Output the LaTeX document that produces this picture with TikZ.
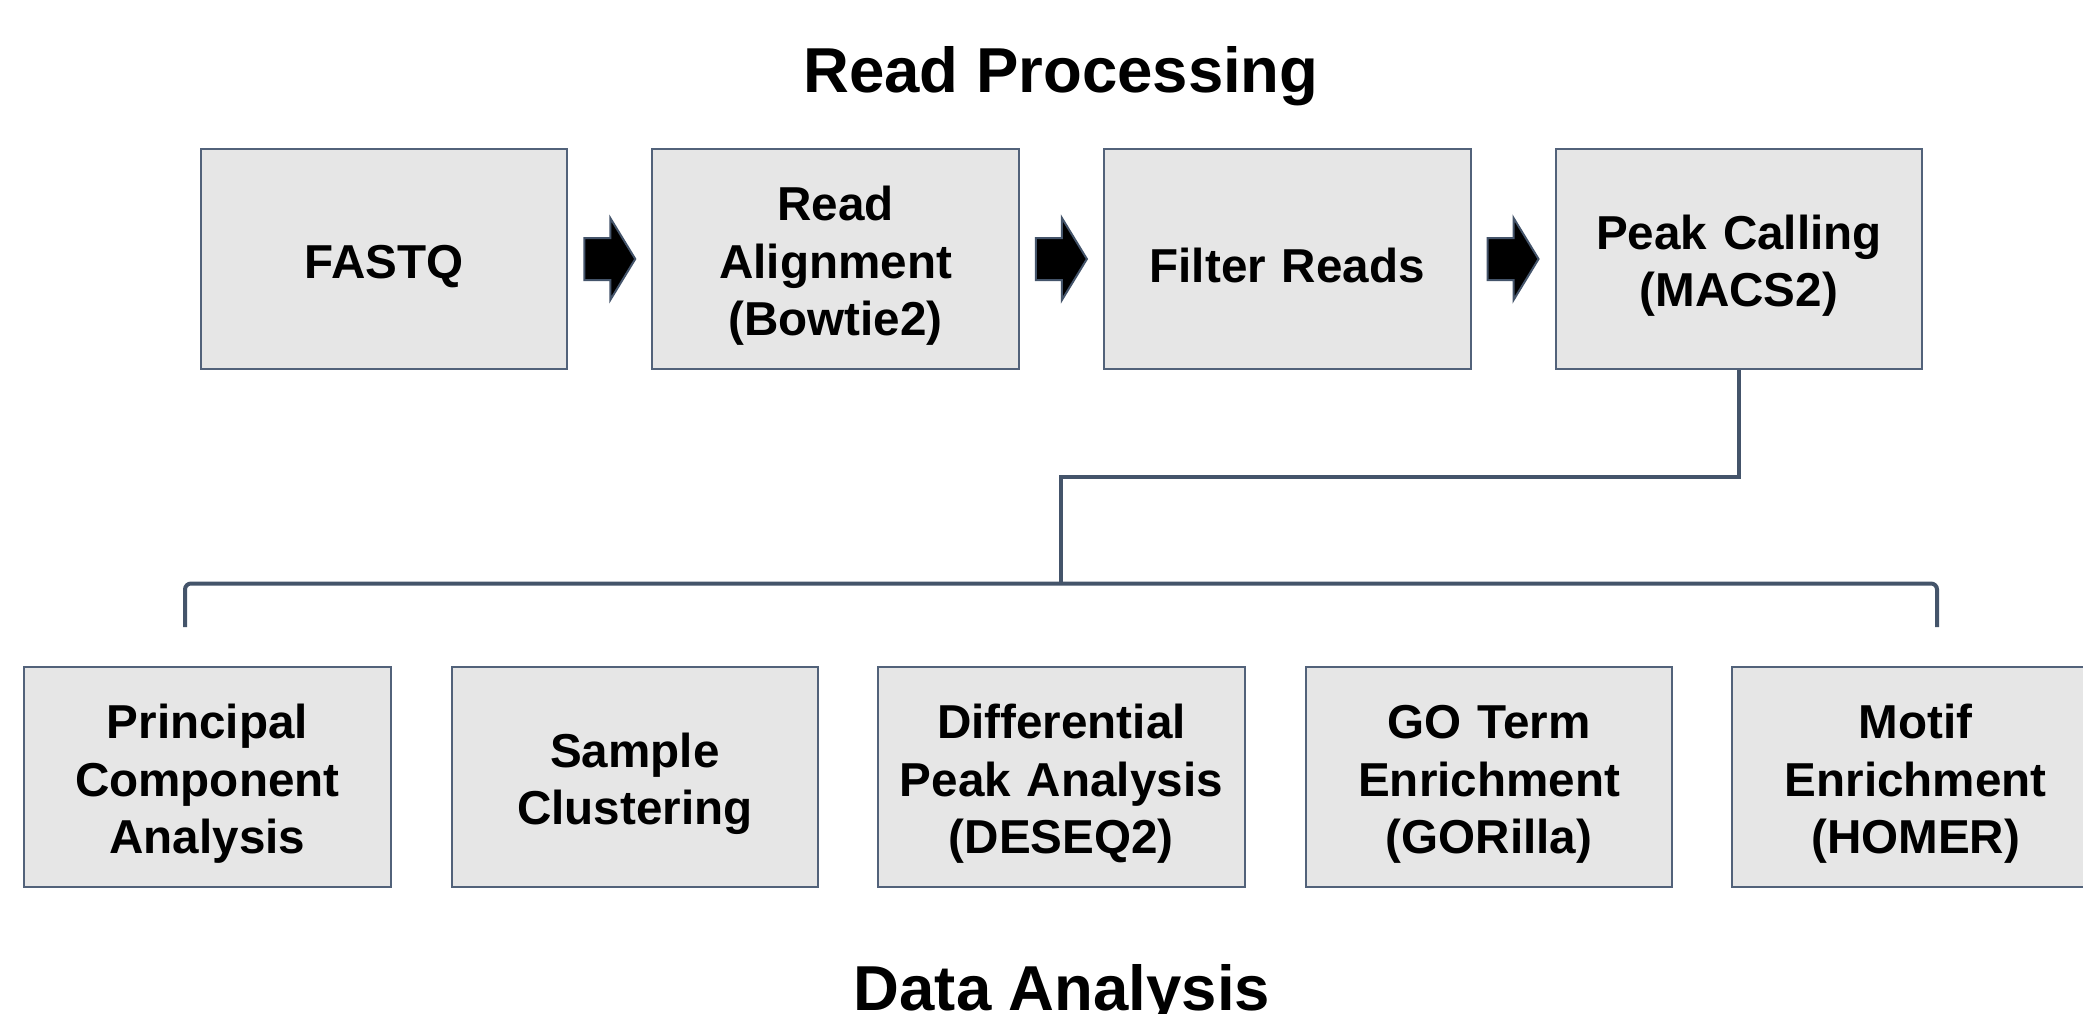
\documentclass[tikz,border=0pt]{standalone}
\usepackage{fontspec}
\setmainfont{Liberation Sans}
\usetikzlibrary{calc}
\definecolor{boxfill}{HTML}{E6E6E6}
\definecolor{slate}{HTML}{44546A}
\definecolor{boxedge}{HTML}{52627A}
\tikzset{
  stepbox/.style={draw=boxedge, line width=2pt, fill=boxfill, minimum width=366.6pt,
    minimum height=220.5pt, inner sep=0pt, align=center, text width=350pt,
    font=\bfseries\fontsize{47.6}{57.8}\selectfont,
    execute at begin node={\rule{0pt}{48pt}}},
  heading/.style={anchor=base, inner sep=0pt, font=\bfseries\fontsize{63.5}{70}\selectfont},
  conn/.style={draw=slate, line width=4pt},
  blockarr/.style={draw=slate, line width=2pt, fill=black, line join=miter},
}
% block arrow centred between two nodes
\newcommand\blockarrow[2]{%
  \draw[blockarr] ($(#1.east)!0.5!(#2.west)$) ++(-25.5,-21) -- ++(26,0) -- ++(0,-20)
    -- ++(25,41) -- ++(-25,41) -- ++(0,-20) -- ++(-26,0) -- cycle;}
\begin{document}
\begin{tikzpicture}[x=1pt, y=-1pt]
  \clip (0,0) rectangle (2083,1014);
  \fill[white] (0,0) rectangle (2083,1014);

  \node[heading] (title1) at (1061,93) {Read Processing};
  \node[heading] (title2) at (1062,1010) {Data Analysis};

  % read processing chain
  \node[stepbox] (fastq)  at (383.9,259) {FASTQ};
  \node[stepbox] (align)  at (835.6,259) {Read\\Alignment\\(Bowtie2)};
  \node[stepbox] (filter) at (1287.2,259) {Filter Reads};
  \node[stepbox] (peak)   at (1738.9,259) {Peak Calling\\(MACS2)};

  \blockarrow{fastq}{align}
  \blockarrow{align}{filter}
  \blockarrow{filter}{peak}

  % downstream analyses
  \node[stepbox] (pca)   at (207.3,777.1) {Principal\\Component\\Analysis};
  \node[stepbox] (clust) at (634.9,777.1) {Sample\\Clustering};
  \node[stepbox] (diff)  at (1061.4,777.1) {Differential\\Peak Analysis\\(DESEQ2)};
  \node[stepbox] (go)    at (1489.1,777.1) {GO Term\\Enrichment\\(GORilla)};
  \node[stepbox] (motif) at (1915.6,777.1) {Motif\\Enrichment\\(HOMER)};

  % bracket fanning out to the analyses
  \coordinate (hub) at (1061.4,583.5);
  \coordinate (bl) at (185,627);
  \coordinate (br) at (1937,627);
  \draw[conn, rounded corners=6pt] (bl) -- ++(0,-43.5) -- ($(br)+(0,-43.5)$) -- (br);
  \draw[conn] (peak.south) -- ++(0,107) -| (hub);
\end{tikzpicture}
\end{document}
